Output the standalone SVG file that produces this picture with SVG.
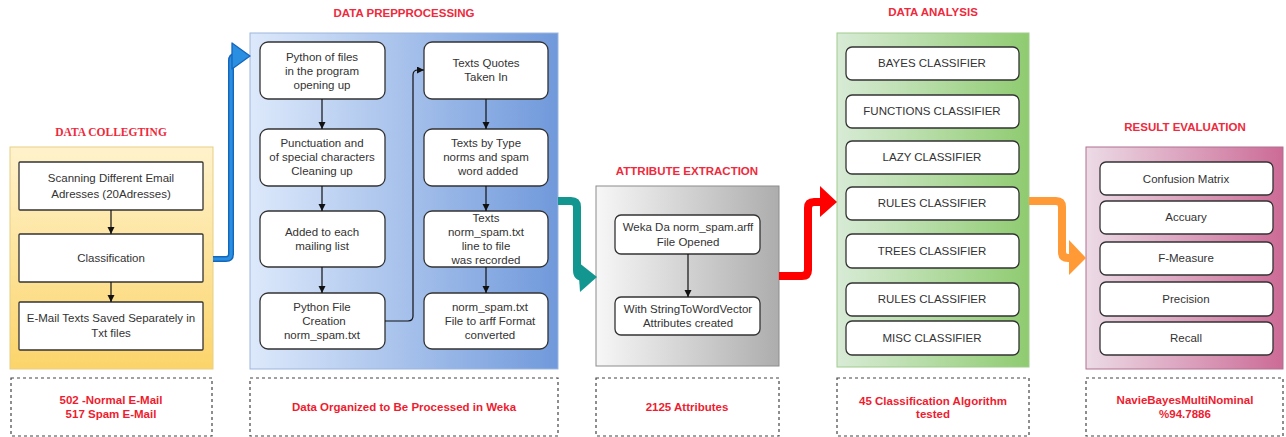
<svg xmlns="http://www.w3.org/2000/svg" width="1286" height="437" viewBox="0 0 1286 437">
  <defs>
    <linearGradient id="gYellow" x1="0" y1="0" x2="0" y2="1">
      <stop offset="0" stop-color="#fff2cc"/>
      <stop offset="1" stop-color="#fbd46a"/>
    </linearGradient>
    <linearGradient id="gBlue" x1="0" y1="0" x2="1" y2="0">
      <stop offset="0" stop-color="#dde9fb"/>
      <stop offset="1" stop-color="#7099db"/>
    </linearGradient>
    <linearGradient id="gGray" x1="0" y1="0" x2="1" y2="0">
      <stop offset="0" stop-color="#f7f7f7"/>
      <stop offset="1" stop-color="#adadad"/>
    </linearGradient>
    <linearGradient id="gGreen" x1="0" y1="0" x2="1" y2="0">
      <stop offset="0" stop-color="#d8ebd6"/>
      <stop offset="1" stop-color="#8fcb70"/>
    </linearGradient>
    <linearGradient id="gPink" x1="0" y1="0" x2="1" y2="0">
      <stop offset="0" stop-color="#ecdbe6"/>
      <stop offset="1" stop-color="#cc6b96"/>
    </linearGradient>
    <marker id="tip" markerUnits="userSpaceOnUse" markerWidth="8" markerHeight="8" refX="7" refY="3.5" orient="auto">
      <path d="M0,0 L7,3.5 L0,7 z" fill="#111"/>
    </marker>
  </defs>
  <style>
    .title { font-family: "Liberation Sans", Arial, sans-serif; font-size: 11.5px; font-weight: bold; fill: #ee2a3c; text-anchor: middle; }
    .stitle { font-family: "Liberation Serif", "Times New Roman", serif; font-size: 11.5px; font-weight: bold; fill: #ee2a3c; text-anchor: middle; }
    .lbl { font-family: "Liberation Sans", Arial, sans-serif; font-size: 11.5px; fill: #333; text-anchor: middle; }
    .note { font-family: "Liberation Sans", Arial, sans-serif; font-size: 11.5px; font-weight: bold; fill: #ee1c30; text-anchor: middle; }
    .box { fill: #fff; stroke: #333; stroke-width: 1.3; }
    .dash { fill: #fff; stroke: #444; stroke-width: 1.2; stroke-dasharray: 3 3; }
    .link { fill: none; stroke: #111; stroke-width: 1.2; marker-end: url(#tip); }
  </style>

  <rect width="1286" height="437" fill="#fff"/>

  <!-- Stage 1: data collecting -->
  <g id="collecting">
    <text class="stitle" x="111" y="136">DATA COLLEGTING</text>
    <rect x="10" y="147" width="203" height="222" fill="url(#gYellow)" stroke="#e8cf85" stroke-width="1"/>
    <g id="scan">
      <rect class="box" x="19" y="162" width="184" height="48" rx="1"/>
      <text class="lbl" x="111" y="182">Scanning Different Email</text>
      <text class="lbl" x="111" y="198">Adresses (20Adresses)</text>
    </g>
    <g id="classification">
      <rect class="box" x="19" y="234" width="184" height="48" rx="1"/>
      <text class="lbl" x="111" y="262">Classification</text>
    </g>
    <g id="saved">
      <rect class="box" x="19" y="302" width="184" height="48" rx="1"/>
      <text class="lbl" x="111" y="322">E-Mail Texts Saved Separately in</text>
      <text class="lbl" x="111" y="337">Txt files</text>
    </g>
  </g>
  <g id="note-collecting">
    <rect class="dash" x="11" y="378" width="201" height="58"/>
    <text class="note" x="111" y="404">502 -Normal E-Mail</text>
    <text class="note" x="111" y="418">517 Spam E-Mail</text>
  </g>

  <!-- Stage 2: data preprocessing -->
  <g id="preprocessing">
    <text class="title" x="404" y="17">DATA PREPPROCESSING</text>
    <rect x="250" y="33" width="308" height="336" fill="url(#gBlue)" stroke="#9db5dc" stroke-width="1"/>
    <g id="pp-open">
      <rect class="box" x="260" y="42" width="125" height="57" rx="8"/>
      <text class="lbl" x="322" y="61">Python of files</text>
      <text class="lbl" x="322" y="75">in the program</text>
      <text class="lbl" x="322" y="89">opening up</text>
    </g>
    <g id="pp-clean">
      <rect class="box" x="260" y="129" width="125" height="57" rx="8"/>
      <text class="lbl" x="322" y="147">Punctuation and</text>
      <text class="lbl" x="322" y="161">of special characters</text>
      <text class="lbl" x="322" y="175">Cleaning up</text>
    </g>
    <g id="pp-list">
      <rect class="box" x="260" y="211" width="125" height="56" rx="8"/>
      <text class="lbl" x="322" y="236">Added to each</text>
      <text class="lbl" x="322" y="250">mailing list</text>
    </g>
    <g id="pp-create">
      <rect class="box" x="260" y="293" width="125" height="56" rx="8"/>
      <text class="lbl" x="322" y="311">Python File</text>
      <text class="lbl" x="324" y="325">Creation</text>
      <text class="lbl" x="322" y="339">norm_spam.txt</text>
    </g>
    <g id="pp-quotes">
      <rect class="box" x="424" y="42" width="124" height="57" rx="8"/>
      <text class="lbl" x="486" y="67">Texts Quotes</text>
      <text class="lbl" x="486" y="81">Taken In</text>
    </g>
    <g id="pp-type">
      <rect class="box" x="424" y="129" width="124" height="57" rx="8"/>
      <text class="lbl" x="486" y="147">Texts by Type</text>
      <text class="lbl" x="486" y="161">norms and spam</text>
      <text class="lbl" x="488" y="175">word added</text>
    </g>
    <g id="pp-record">
      <rect class="box" x="424" y="211" width="124" height="56" rx="8"/>
      <text class="lbl" x="486" y="222">Texts</text>
      <text class="lbl" x="486" y="236">norm_spam.txt</text>
      <text class="lbl" x="486" y="250">line to file</text>
      <text class="lbl" x="486" y="264">was recorded</text>
    </g>
    <g id="pp-arff">
      <rect class="box" x="424" y="293" width="124" height="56" rx="8"/>
      <text class="lbl" x="490" y="311">norm_spam.txt</text>
      <text class="lbl" x="490" y="325">File to arff Format</text>
      <text class="lbl" x="490" y="339">converted</text>
    </g>
  </g>
  <g id="note-preprocessing">
    <rect class="dash" x="250" y="378" width="308" height="58"/>
    <text class="note" x="404" y="411">Data Organized to Be Processed in Weka</text>
  </g>

  <!-- Stage 3: attribute extraction -->
  <g id="extraction">
    <text class="title" x="687" y="175">ATTRIBUTE EXTRACTION</text>
    <rect x="596" y="186" width="183" height="180" fill="url(#gGray)" stroke="#8c8c8c" stroke-width="1"/>
    <g id="ax-open">
      <rect class="box" x="615" y="215" width="145" height="39" rx="6"/>
      <text class="lbl" x="688" y="231">Weka Da norm_spam.arff</text>
      <text class="lbl" x="688" y="246">File Opened</text>
    </g>
    <g id="ax-vector">
      <rect class="box" x="615" y="297" width="145" height="38" rx="6"/>
      <text class="lbl" x="688" y="313">With StringToWordVector</text>
      <text class="lbl" x="688" y="327">Attributes created</text>
    </g>
  </g>
  <g id="note-extraction">
    <rect class="dash" x="596" y="378" width="183" height="58"/>
    <text class="note" x="687" y="411">2125 Attributes</text>
  </g>

  <!-- Stage 4: data analysis -->
  <g id="analysis">
    <text class="title" x="933" y="16">DATA ANALYSIS</text>
    <rect x="837" y="33" width="192" height="334" fill="url(#gGreen)" stroke="#9fcb8c" stroke-width="1"/>
    <g id="da-bayes">
      <rect class="box" x="846" y="47" width="173" height="33" rx="6"/>
      <text class="lbl" x="932" y="67">BAYES CLASSIFIER</text>
    </g>
    <g id="da-functions">
      <rect class="box" x="846" y="95" width="173" height="33" rx="6"/>
      <text class="lbl" x="932" y="115">FUNCTIONS CLASSIFIER</text>
    </g>
    <g id="da-lazy">
      <rect class="box" x="846" y="141" width="173" height="33" rx="6"/>
      <text class="lbl" x="932" y="161">LAZY CLASSIFIER</text>
    </g>
    <g id="da-rules">
      <rect class="box" x="846" y="187" width="173" height="33" rx="6"/>
      <text class="lbl" x="932" y="207">RULES CLASSIFIER</text>
    </g>
    <g id="da-trees">
      <rect class="box" x="846" y="234" width="173" height="34" rx="6"/>
      <text class="lbl" x="932" y="255">TREES CLASSIFIER</text>
    </g>
    <g id="da-rules2">
      <rect class="box" x="846" y="283" width="173" height="33" rx="6"/>
      <text class="lbl" x="932" y="303">RULES CLASSIFIER</text>
    </g>
    <g id="da-misc">
      <rect class="box" x="846" y="321" width="173" height="34" rx="6"/>
      <text class="lbl" x="932" y="342">MISC CLASSIFIER</text>
    </g>
  </g>
  <g id="note-analysis">
    <rect class="dash" x="837" y="378" width="192" height="58"/>
    <text class="note" x="933" y="405">45 Classification Algorithm</text>
    <text class="note" x="933" y="418">tested</text>
  </g>

  <!-- Stage 5: result evaluation -->
  <g id="evaluation">
    <text class="title" x="1185" y="131">RESULT EVALUATION</text>
    <rect x="1086" y="147" width="197" height="222" fill="url(#gPink)" stroke="#b0708f" stroke-width="1"/>
    <g id="re-confusion">
      <rect class="box" x="1100" y="162" width="173" height="33" rx="6"/>
      <text class="lbl" x="1186" y="183">Confusion Matrix</text>
    </g>
    <g id="re-accuracy">
      <rect class="box" x="1100" y="201" width="173" height="33" rx="6"/>
      <text class="lbl" x="1186" y="221">Accuary</text>
    </g>
    <g id="re-fmeasure">
      <rect class="box" x="1100" y="242" width="173" height="33" rx="6"/>
      <text class="lbl" x="1186" y="262">F-Measure</text>
    </g>
    <g id="re-precision">
      <rect class="box" x="1100" y="282" width="173" height="34" rx="6"/>
      <text class="lbl" x="1186" y="303">Precision</text>
    </g>
    <g id="re-recall">
      <rect class="box" x="1100" y="322" width="173" height="33" rx="6"/>
      <text class="lbl" x="1186" y="342">Recall</text>
    </g>
  </g>
  <g id="note-evaluation">
    <rect class="dash" x="1086" y="378" width="197" height="58"/>
    <text class="note" x="1185" y="404">NavieBayesMultiNominal</text>
    <text class="note" x="1185" y="418">%94.7886</text>
  </g>

  <!-- Connectors -->
  <g id="connectors">
    <!-- inner flow arrows -->
    <path class="link" d="M111,210 V234"/>
    <path class="link" d="M111,282 V302"/>
    <path class="link" d="M322,99 V129"/>
    <path class="link" d="M322,186 V211"/>
    <path class="link" d="M322,267 V293"/>
    <path class="link" d="M486,99 V129"/>
    <path class="link" d="M486,186 V211"/>
    <path class="link" d="M486,267 V293"/>
    <path class="link" d="M385,321 H408 Q413,321 413,316 V75 Q413,70 418,70 H424"/>
    <path class="link" d="M688,254 V297"/>

    <!-- collecting to preprocessing -->
    <g id="arrow-blue">
      <path d="M213,259 H226 Q231,259 231,254 V61 Q231,56 235,56" fill="none" stroke="#1466bd" stroke-width="6"/>
      <path d="M213,259 H226 Q231,259 231,254 V61 Q231,56 235,56" fill="none" stroke="#2a8fe0" stroke-width="3.2"/>
      <polygon points="232,43 250,56 232,69" fill="#2a8fe0" stroke="#1466bd" stroke-width="1.3" stroke-linejoin="round"/>
    </g>
    <!-- preprocessing to extraction -->
    <g id="arrow-teal">
      <path d="M558,201 H571 Q577,201 577,207 V270 Q577,277 584,277" fill="none" stroke="#12968f" stroke-width="8"/>
      <polygon points="578,262 597,277 580,292" fill="#12968f"/>
    </g>
    <!-- extraction to analysis -->
    <g id="arrow-red">
      <path d="M779,276 H802 Q808,276 808,270 V208 Q808,202 814,202 H821" fill="none" stroke="#ff0000" stroke-width="8"/>
      <polygon points="820,186 837,202 820,217" fill="#ff0000"/>
    </g>
    <!-- analysis to evaluation -->
    <g id="arrow-orange">
      <path d="M1029,201 H1056 Q1062,201 1062,207 V252 Q1062,258 1068,258 H1071" fill="none" stroke="#ff9a36" stroke-width="8"/>
      <polygon points="1069,240 1086,258 1069,275" fill="#ff9a36"/>
    </g>
  </g>
</svg>
